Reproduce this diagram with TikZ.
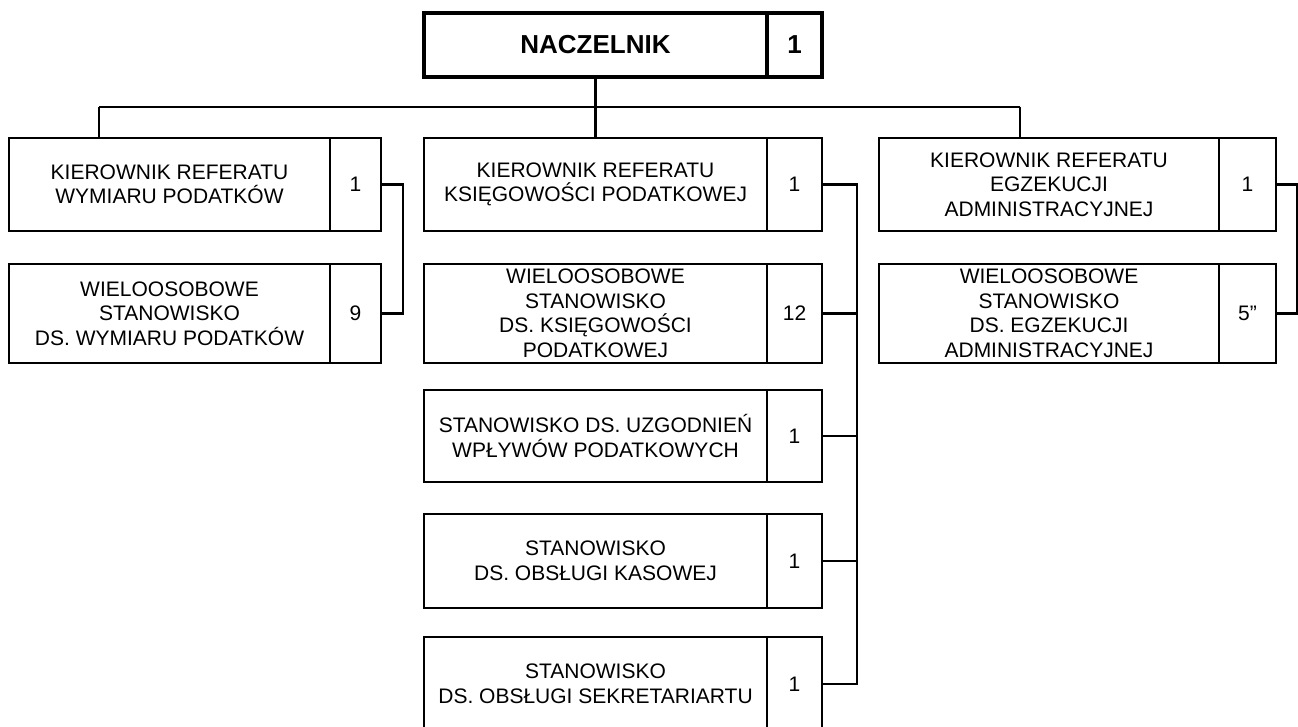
\documentclass[tikz,border=0pt]{standalone}
\usepackage{fontspec}
\setmainfont{Liberation Sans}
\begin{document}
\begin{tikzpicture}[x=1pt,y=-1pt,
  every node/.style={inner sep=0pt,outer sep=0pt},
  txt/.style={font=\fontsize{21}{24.5}\selectfont},
  mbox/.style={draw,line width=2.2pt,rectangle,align=center,txt},
  topbox/.style={draw,line width=4pt,rectangle,align=center,font=\fontsize{26}{30}\selectfont\bfseries},
  conn/.style={line width=2.2pt}]
\useasboundingbox (0,0) rectangle (1298,727);
\clip (0,0) rectangle (1298,727);
\fill[white] (0,0) rectangle (1298,727);

% top
\node[topbox,minimum width=343pt,minimum height=64pt] (top) at (595.5,45) {NACZELNIK};
\node[topbox,minimum width=55pt,minimum height=64pt] (topn) at (794.5,45) {1};

% left column
\node[mbox,minimum width=321pt,minimum height=93pt] (a1) at (169.5,184.5) {KIEROWNIK REFERATU\\WYMIARU PODATKÓW};
\node[mbox,minimum width=51pt,minimum height=93pt] (a1n) at (355.5,184.5) {1};
\node[mbox,minimum width=321pt,minimum height=99pt] (a2) at (169.5,313.5) {WIELOOSOBOWE\\STANOWISKO\\DS. WYMIARU PODATKÓW};
\node[mbox,minimum width=51pt,minimum height=99pt] (a2n) at (355.5,313.5) {9};

% middle column
\node[mbox,minimum width=343pt,minimum height=93pt] (m1) at (595.5,184.5) {KIEROWNIK REFERATU\\KSIĘGOWOŚCI PODATKOWEJ};
\node[mbox,minimum width=55pt,minimum height=93pt] (m1n) at (794.5,184.5) {1};
\node[mbox,minimum width=343pt,minimum height=99pt] (m2) at (595.5,313.5) {WIELOOSOBOWE\\STANOWISKO\\DS. KSIĘGOWOŚCI\\PODATKOWEJ};
\node[mbox,minimum width=55pt,minimum height=99pt] (m2n) at (794.5,313.5) {12};
\node[mbox,minimum width=343pt,minimum height=92pt] (m3) at (595.5,436) {STANOWISKO DS. UZGODNIEŃ\\WPŁYWÓW PODATKOWYCH};
\node[mbox,minimum width=55pt,minimum height=92pt] (m3n) at (794.5,436) {1};
\node[mbox,minimum width=343pt,minimum height=94pt] (m4) at (595.5,561) {STANOWISKO\\DS. OBSŁUGI KASOWEJ};
\node[mbox,minimum width=55pt,minimum height=94pt] (m4n) at (794.5,561) {1};
\node[mbox,minimum width=343pt,minimum height=94pt] (m5) at (595.5,684) {STANOWISKO\\DS. OBSŁUGI SEKRETARIARTU};
\node[mbox,minimum width=55pt,minimum height=94pt] (m5n) at (794.5,684) {1};

% right column
\node[mbox,minimum width=340pt,minimum height=93pt] (r1) at (1049,184.5) {KIEROWNIK REFERATU\\EGZEKUCJI\\ADMINISTRACYJNEJ};
\node[mbox,minimum width=57pt,minimum height=93pt] (r1n) at (1247.5,184.5) {1};
\node[mbox,minimum width=340pt,minimum height=99pt] (r2) at (1049,313.5) {WIELOOSOBOWE\\STANOWISKO\\DS. EGZEKUCJI\\ADMINISTRACYJNEJ};
\node[mbox,minimum width=57pt,minimum height=99pt] (r2n) at (1247.5,313.5) {5”};

% bus
\coordinate (busL) at (99,107);
\coordinate (busR) at (1020,107);
\draw[conn] (busL) -- (busR);
\draw[conn] (top.south) -- (top.south |- busL);
\draw[conn] (busL) -- (busL |- a1.north);
\draw[conn] (top.south |- busL) -- (m1.north);
\draw[conn] (busR) -- (busR |- r1.north);

% side connectors
\coordinate (lx) at (403,0);
\coordinate (mx) at (857,0);
\coordinate (rx) at (1297,0);
\draw[conn] (a1n.east) -| (lx |- a2n.east) -- (a2n.east);
\draw[conn] (m1n.east) -| (mx |- m5n.east) -- (m5n.east);
\draw[conn] (m2n.east) -- (m2n.east -| mx);
\draw[conn] (m3n.east) -- (m3n.east -| mx);
\draw[conn] (m4n.east) -- (m4n.east -| mx);
\draw[conn] (r1n.east) -| (rx |- r2n.east) -- (r2n.east);
\end{tikzpicture}
\end{document}
